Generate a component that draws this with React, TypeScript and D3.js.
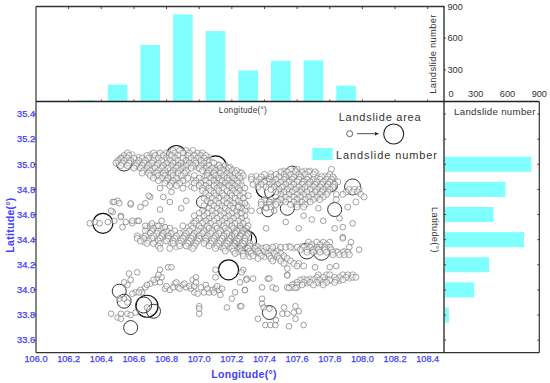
import React from "react";
import * as d3 from "d3";

// Histogram along longitude
const lonBins = [106.3, 106.5, 106.7, 106.9, 107.1, 107.3, 107.5, 107.7, 107.9];
const lonCounts = [12, 160, 535, 825, 667, 294, 385, 390, 150];
// Histogram along latitude
const latBins = [35.0, 34.8, 34.6, 34.4, 34.2, 34.0, 33.8];
const latCounts = [824, 580, 467, 755, 426, 284, 47];

const lonTicks = [106.0, 106.2, 106.4, 106.6, 106.8, 107.0, 107.2, 107.4, 107.6, 107.8, 108.0, 108.2, 108.4];
const latTicks = [35.4, 35.2, 35.0, 34.8, 34.6, 34.4, 34.2, 34.0, 33.8, 33.6];
const countTicks = [300, 600, 900];

// Small landslides, read row by row: [latitude, longitudes]
const rows: [number, number[]][] = [
  [35.11, [106.84, 106.88, 106.92, 106.96]],
  [35.09, [106.56, 106.72, 106.76, 106.8, 106.85, 106.9, 106.94, 106.99, 107.02]],
  [35.07, [106.54, 106.57, 106.68, 106.73, 106.78, 106.83, 106.87, 106.93, 106.97, 107.01, 107.04]],
  [35.05, [106.52, 106.56, 106.6, 106.65, 106.69, 106.75, 106.8, 106.85, 106.9, 106.95, 106.99, 107.03]],
  [35.03, [106.5, 106.54, 106.58, 106.63, 106.67, 106.72, 106.77, 106.82, 106.87, 106.92, 106.97, 107.01, 107.05]],
  [35.01, [106.49, 106.53, 106.57, 106.62, 106.66, 106.71, 106.75, 106.8, 106.84, 106.89, 106.94, 106.98, 107.03, 107.09]],
  [34.99, [106.52, 106.56, 106.61, 106.65, 106.69, 106.74, 106.78, 106.83, 106.87, 106.92, 106.96, 107.01, 107.06, 107.12, 107.16]],
  [34.97, [106.6, 106.64, 106.68, 106.73, 106.77, 106.81, 106.86, 106.9, 106.95, 107.0, 107.04, 107.08, 107.13, 107.18]],
  [34.95, [106.66, 106.7, 106.75, 106.79, 106.84, 106.88, 106.92, 107.02, 107.06, 107.1, 107.15, 107.2, 107.23]],
  [34.93, [106.65, 106.69, 106.74, 106.78, 106.83, 106.87, 106.91, 107.05, 107.09, 107.13, 107.17, 107.22, 107.26]],
  [34.91, [106.7, 106.75, 106.79, 106.84, 106.89, 106.97, 107.05, 107.1, 107.15, 107.19, 107.24, 107.27]],
  [34.89, [106.72, 106.77, 106.81, 106.86, 106.93, 107.0, 107.07, 107.12, 107.17, 107.21, 107.25]],
  [34.87, [106.75, 106.8, 106.84, 106.9, 106.98, 107.04, 107.09, 107.14, 107.18, 107.23]],
  [34.85, [106.79, 106.83, 106.88, 106.97, 107.01, 107.06, 107.11, 107.16, 107.2, 107.24]],
  [34.83, [106.82, 106.86, 107.0, 107.04, 107.09, 107.13, 107.18, 107.22, 107.26]],
  [34.81, [106.9, 106.97, 107.02, 107.06, 107.11, 107.15, 107.2, 107.24, 107.28]],
  [34.79, [107.02, 107.07, 107.12, 107.17, 107.21, 107.25]],
  [34.77, [107.04, 107.09, 107.14, 107.19, 107.23, 107.27]],
  [34.75, [107.06, 107.1, 107.15, 107.2, 107.25, 107.3]],
  [34.73, [107.03, 107.08, 107.12, 107.17, 107.22, 107.27]],
  [34.71, [107.05, 107.1, 107.15, 107.19, 107.24]],
  [34.69, [107.07, 107.12, 107.17, 107.21, 107.26]],
  [34.67, [107.03, 107.09, 107.14, 107.19, 107.24, 107.29]],
  [34.65, [107.06, 107.11, 107.16, 107.21, 107.26]],
  [34.63, [107.02, 107.08, 107.13, 107.18, 107.23, 107.28]],
  [34.61, [107.0, 107.05, 107.1, 107.15, 107.2, 107.25]],
  [34.59, [106.97, 107.03, 107.08, 107.13, 107.18, 107.23, 107.28]],
  [34.57, [107.0, 107.06, 107.11, 107.16, 107.21, 107.26]],
  [34.55, [106.98, 107.04, 107.09, 107.14, 107.19, 107.24, 107.29]],
  [34.53, [106.97, 107.02, 107.07, 107.12, 107.17, 107.22, 107.27]],
  [34.51, [106.7, 106.74, 106.9, 106.95, 107.0, 107.05, 107.1, 107.15, 107.2, 107.25, 107.3]],
  [34.49, [106.68, 106.72, 106.77, 106.82, 106.96, 107.01, 107.06, 107.11, 107.16, 107.21, 107.25, 107.29]],
  [34.47, [106.67, 106.71, 106.75, 106.8, 106.85, 106.94, 106.99, 107.03, 107.08, 107.13, 107.18, 107.23, 107.27]],
  [34.45, [106.7, 106.74, 106.78, 106.83, 106.88, 106.92, 106.97, 107.02, 107.07, 107.12, 107.17, 107.22, 107.26, 107.3]],
  [34.43, [106.62, 106.67, 106.72, 106.77, 106.81, 106.86, 106.91, 106.96, 107.0, 107.05, 107.1, 107.15, 107.2, 107.25, 107.29]],
  [34.41, [106.62, 106.66, 106.71, 106.76, 106.81, 106.85, 106.9, 106.95, 107.0, 107.04, 107.09, 107.14, 107.19, 107.24, 107.28]],
  [34.39, [106.64, 106.69, 106.75, 106.8, 106.84, 106.89, 106.94, 106.99, 107.04, 107.08, 107.13, 107.18, 107.23, 107.28]],
  [34.37, [106.68, 106.72, 106.76, 106.84, 106.88, 106.93, 106.98, 107.03, 107.07, 107.12, 107.17, 107.22, 107.27, 107.31]],
  [34.35, [106.75, 106.88, 106.92, 106.97, 107.06, 107.11, 107.16, 107.21, 107.26, 107.31, 107.35]],
  [34.33, [106.76, 106.82, 106.96, 107.1, 107.15, 107.2, 107.25, 107.3, 107.34, 107.39, 107.43]],
  [34.31, [107.16, 107.21, 107.26, 107.31, 107.36, 107.4, 107.44, 107.48]],
  [34.29, [107.22, 107.27, 107.32, 107.37, 107.42, 107.46, 107.5]],
  [34.27, [107.27, 107.33, 107.38, 107.43, 107.48, 107.52]],
  [34.25, [107.36, 107.44, 107.49, 107.54]],
  [34.23, [107.45, 107.5, 107.56]],
  [34.21, [107.52, 107.58, 107.61]],
  [34.19, [107.6, 107.64]],
  [34.38, [107.67, 107.72, 107.76, 107.8]],
  [34.36, [107.69, 107.74, 107.78]],
  [34.34, [107.41, 107.45, 107.5, 107.53, 107.56, 107.6, 107.64, 107.68, 107.72, 107.77, 107.8]],
  [34.32, [107.62, 107.66, 107.7, 107.73, 107.77, 107.81]],
  [34.3, [107.66, 107.7, 107.74, 107.78, 107.82, 107.85, 107.88, 107.91]],
  [34.28, [107.82, 107.86, 107.89, 107.92]],
  [34.12, [107.73, 107.78, 107.8, 107.88, 107.91, 107.94]],
  [34.1, [107.72, 107.76, 107.83, 107.86, 107.9, 107.94, 107.96]],
  [34.08, [107.62, 107.66, 107.7, 107.74, 107.8, 107.84, 107.88]],
  [34.06, [107.6, 107.64, 107.68, 107.72, 107.76, 107.78, 107.83]],
  [34.04, [107.57, 107.6, 107.63, 107.7, 107.76]],
  [34.02, [107.54, 107.57, 107.6]],
  [34.96, [107.56, 107.6, 107.81]],
  [34.94, [107.5, 107.54, 107.59, 107.63, 107.67, 107.71]],
  [34.92, [107.4, 107.47, 107.52, 107.56, 107.61, 107.65, 107.7, 107.8]],
  [34.9, [107.32, 107.38, 107.44, 107.49, 107.53, 107.58, 107.62, 107.67, 107.75, 107.79, 107.82]],
  [34.88, [107.32, 107.37, 107.43, 107.47, 107.52, 107.57, 107.61, 107.66, 107.7, 107.74, 107.78, 107.81]],
  [34.86, [107.35, 107.4, 107.45, 107.5, 107.55, 107.6, 107.64, 107.68, 107.72, 107.76, 107.8, 107.85]],
  [34.84, [107.33, 107.38, 107.43, 107.48, 107.53, 107.58, 107.63, 107.67, 107.71, 107.75, 107.79, 107.83]],
  [34.82, [107.36, 107.41, 107.46, 107.51, 107.56, 107.61, 107.65, 107.7, 107.74, 107.78, 107.82]],
  [34.8, [107.44, 107.49, 107.54, 107.59, 107.63, 107.68, 107.72, 107.76, 107.8, 107.92, 107.95, 107.98]],
  [34.78, [107.47, 107.52, 107.57, 107.62, 107.66, 107.71, 107.75, 107.79, 107.9, 107.94, 107.97]],
  [34.76, [107.5, 107.55, 107.6, 107.64, 107.69, 107.74, 107.78, 107.84, 107.88, 107.99]],
  [34.74, [107.53, 107.58, 107.62, 107.67, 107.72, 107.76, 108.01]],
  [34.72, [107.4, 107.44, 107.5, 107.55, 107.6, 107.65, 107.7, 107.74, 107.84]],
  [34.7, [107.38, 107.43, 107.48, 107.53, 107.58, 107.63, 107.68, 107.96]],
  [34.68, [107.38, 107.43, 107.47, 107.56, 107.6, 107.65]],
  [34.66, [107.41, 107.44, 107.6, 107.64, 107.91]],
];

// Slightly smaller landslides between the rows above
const extraRows: [number, number[]][] = [
  [35.08, [106.59, 106.7, 106.75, 106.82, 106.88, 106.97, 107.0]],
  [35.06, [106.55, 106.63, 106.72, 106.77, 106.83, 106.92, 107.0, 107.06]],
  [35.04, [106.53, 106.61, 106.69, 106.74, 106.79, 106.86, 106.94, 107.03]],
  [35.02, [106.51, 106.6, 106.64, 106.7, 106.78, 106.85, 106.91, 106.96, 107.02, 107.08]],
  [35.0, [106.55, 106.63, 106.68, 106.73, 106.81, 106.88, 106.93, 106.99, 107.05, 107.12]],
  [34.98, [106.62, 106.67, 106.72, 106.8, 106.85, 106.91, 106.97, 107.03, 107.1, 107.15, 107.19]],
  [34.96, [106.68, 106.76, 106.82, 106.89, 107.0, 107.07, 107.11, 107.17, 107.21]],
  [34.94, [106.72, 106.8, 106.85, 106.93, 107.04, 107.12, 107.19, 107.25]],
  [34.92, [106.77, 106.82, 106.87, 107.06, 107.11, 107.16, 107.21]],
  [34.9, [106.74, 106.83, 106.91, 107.03, 107.08, 107.14, 107.2, 107.26]],
  [34.88, [106.79, 106.88, 106.96, 107.02, 107.1, 107.16, 107.22]],
  [34.86, [106.82, 106.86, 106.99, 107.07, 107.13, 107.19, 107.26]],
  [34.84, [106.85, 106.93, 107.03, 107.1, 107.15, 107.21]],
  [34.82, [106.95, 107.06, 107.12, 107.18, 107.23]],
  [34.74, [107.05, 107.13, 107.19, 107.24, 107.28]],
  [34.7, [107.08, 107.14, 107.2, 107.25]],
  [34.66, [107.05, 107.13, 107.18, 107.23, 107.28]],
  [34.62, [107.03, 107.11, 107.17, 107.22, 107.27]],
  [34.58, [107.02, 107.07, 107.15, 107.2, 107.26]],
  [34.54, [106.96, 107.05, 107.13, 107.18, 107.25]],
  [34.5, [106.7, 106.79, 106.93, 107.03, 107.08, 107.14, 107.2, 107.27]],
  [34.46, [106.69, 106.76, 106.81, 106.9, 106.98, 107.05, 107.1, 107.16, 107.21, 107.28]],
  [34.42, [106.65, 106.69, 106.79, 106.83, 106.93, 106.98, 107.03, 107.11, 107.17, 107.22, 107.27]],
  [34.38, [106.66, 106.73, 106.82, 106.9, 106.96, 107.05, 107.1, 107.16, 107.21, 107.26, 107.3]],
  [34.34, [106.86, 106.94, 107.13, 107.18, 107.24, 107.29, 107.33, 107.37]],
  [34.3, [107.24, 107.3, 107.35, 107.41, 107.47]],
  [34.26, [107.31, 107.4, 107.46, 107.52]],
  [34.95, [107.52, 107.57, 107.65, 107.68]],
  [34.93, [107.44, 107.5, 107.58, 107.63, 107.72]],
  [34.91, [107.35, 107.46, 107.55, 107.6, 107.68, 107.77]],
  [34.89, [107.41, 107.5, 107.55, 107.64, 107.72, 107.83]],
  [34.87, [107.38, 107.48, 107.54, 107.63, 107.7, 107.77]],
  [34.85, [107.36, 107.46, 107.52, 107.57, 107.66, 107.73, 107.82]],
  [34.83, [107.4, 107.45, 107.55, 107.6, 107.69, 107.77, 107.81]],
  [34.81, [107.47, 107.53, 107.58, 107.64, 107.73, 107.79]],
  [34.79, [107.5, 107.55, 107.61, 107.69, 107.77]],
  [34.77, [107.53, 107.63, 107.67, 107.73]],
  [34.75, [107.57, 107.65, 107.7, 107.75]],
  [34.73, [107.51, 107.6, 107.68, 107.72]],
  [34.71, [107.46, 107.52, 107.62, 107.67]],
  [34.69, [107.41, 107.5, 107.61]],
  [34.35, [107.47, 107.55, 107.63, 107.7, 107.75]],
  [34.33, [107.5, 107.58, 107.67, 107.74, 107.79]],
  [34.31, [107.68, 107.72, 107.76, 107.84, 107.89]],
  [34.09, [107.64, 107.68, 107.72, 107.78, 107.85, 107.92]],
  [34.07, [107.62, 107.66, 107.74, 107.81, 107.86]],
  [34.05, [107.58, 107.66, 107.73]],
];

// Scattered small landslides: [longitude, latitude]
const scattered: [number, number][] = [
  [106.33, 34.53], [106.36, 34.54], [106.39, 34.53], [106.44, 34.54], [106.47, 34.62], [106.48, 34.55],
  [106.52, 34.59], [106.53, 34.5], [106.55, 34.54], [106.59, 34.53], [106.62, 34.55], [106.47, 34.7],
  [106.5, 34.71], [106.58, 34.68], [106.64, 34.66], [106.67, 34.69], [106.76, 34.64], [106.82, 34.7],
  [106.7, 34.74], [106.48, 34.7], [106.51, 34.69], [106.58, 34.69], [106.69, 34.75], [106.76, 34.81],
  [106.78, 34.74], [106.83, 34.78], [106.92, 34.71], [106.89, 34.65], [106.46, 34.63], [106.52, 34.58],
  [106.59, 34.55], [106.63, 34.55], [106.67, 34.51], [106.71, 34.53], [106.77, 34.55], [106.75, 34.51],
  [106.79, 34.5], [107.24, 34.66], [107.28, 34.69], [107.32, 34.63], [107.26, 34.61], [107.37, 34.63],
  [107.41, 34.65], [107.46, 34.63], [107.69, 34.56], [107.53, 34.54], [107.61, 34.49], [107.41, 34.49],
  [107.76, 34.55], [107.94, 34.53], [107.83, 34.49], [107.88, 34.5], [107.88, 34.42], [107.64, 34.59],
  [107.73, 34.65], [107.86, 34.57], [107.88, 34.41], [107.93, 34.38], [107.98, 34.32], [107.92, 34.34],
  [107.71, 34.18], [107.8, 34.18], [107.84, 34.19], [107.54, 34.17], [107.42, 34.09], [107.54, 34.12],
  [106.74, 34.09], [106.77, 34.1], [106.73, 34.06], [106.7, 34.05], [106.67, 34.02], [106.64, 34.0],
  [106.61, 33.98], [106.59, 33.97], [106.56, 34.04], [106.54, 34.06], [106.58, 34.08], [106.62, 34.14],
  [106.57, 34.13], [106.76, 34.16], [106.81, 34.18], [106.83, 34.18], [106.79, 34.01], [106.82, 34.0],
  [106.85, 34.05], [106.87, 34.02], [106.9, 34.04], [106.92, 34.02], [106.96, 34.08], [106.98, 34.1],
  [106.97, 33.98], [106.99, 33.97], [106.95, 34.01], [107.01, 34.02], [107.04, 34.04], [107.03, 33.98],
  [107.06, 33.98], [107.08, 34.0], [107.1, 34.01], [107.12, 34.0], [107.14, 34.01], [107.13, 33.96],
  [107.2, 33.93], [107.22, 33.98], [107.17, 33.86], [107.25, 33.87], [107.1, 34.1], [107.1, 34.16],
  [107.27, 34.16], [107.25, 34.06], [107.29, 34.09], [107.28, 34.0], [106.76, 34.06], [106.65, 33.98],
  [106.86, 34.06], [106.88, 34.01], [106.46, 33.81], [106.5, 33.78], [106.52, 33.81], [106.52, 33.77],
  [106.56, 33.81], [106.58, 33.8], [106.61, 33.82], [106.54, 33.93], [106.51, 33.93], [106.56, 33.9],
  [106.68, 33.86], [107.0, 33.87], [107.0, 33.85], [107.0, 33.81], [107.43, 34.09], [107.385, 34.02],
  [107.45, 34.02], [107.47, 34.01], [107.28, 33.997], [107.33, 34.09], [107.29, 34.08], [107.26, 34.14],
  [107.54, 34.115], [107.55, 34.015], [107.59, 34.015], [107.385, 33.93], [107.385, 33.89], [107.395, 33.86],
  [107.36, 33.77], [107.43, 33.85], [107.52, 33.86], [107.51, 33.81], [107.54, 33.81], [107.59, 33.87],
  [107.61, 33.83], [107.58, 33.82], [107.59, 33.77], [107.405, 33.72], [107.436, 33.72], [107.467, 33.72],
  [107.47, 33.76], [107.55, 33.71], [107.64, 33.72], [107.258, 33.87],
  [106.72, 34.08], [106.75, 34.12], [106.68, 34.04], [106.63, 33.98], [106.8, 34.03], [106.84, 34.02],
  [106.91, 34.05], [106.94, 34.03], [107.05, 34.01], [107.09, 33.98], [107.11, 34.03], [106.97, 34.03],
  [106.98, 34.06],
];

// Large landslides: [longitude, latitude, relative area]
const large: [number, number, number][] = [
  [106.41, 34.53, 100], [107.18, 34.16, 100], [106.68, 33.87, 121], [106.72, 33.83, 49], [106.58, 33.7, 49],
  [106.51, 33.99, 49], [106.54, 33.91, 49], [106.66, 33.88, 64], [107.29, 34.39, 100], [107.26, 34.42, 100],
  [107.94, 34.82, 64], [107.83, 34.64, 49], [107.41, 34.81, 100], [107.45, 34.78, 64], [107.42, 34.63, 36],
  [107.54, 34.65, 49], [107.57, 34.93, 49], [107.81, 34.83, 36], [106.54, 35.01, 64], [106.86, 35.07, 100],
  [107.1, 34.98, 121], [107.15, 34.91, 81], [107.02, 34.7, 36], [107.75, 34.3, 64], [107.66, 34.31, 64],
  [107.43, 33.82, 49],
];

const W = 550;
const H = 383;
const plot = { left: 36, right: 444, top: 101.5, bottom: 352.7 };
const topPanelTop = 6.5;
const sidePanelRight = 539.3;

const x = d3.scaleLinear().domain([106, 108.5]).range([plot.left, plot.right]);
const y = d3.scaleLinear().domain([33.5, 35.5]).range([plot.bottom, plot.top]);
const countY = d3.scaleLinear().domain([0, 900]).range([plot.top, topPanelTop]);
const countX = d3.scaleLinear().domain([0, 900]).range([plot.right, sidePanelRight]);
const radius = d3.scaleSqrt().domain([0, 121]).range([0, 11]);

const flatten = (rs: [number, number[]][]) =>
  rs.flatMap(([lat, lons]) => lons.map((lon) => [lon, lat] as [number, number]));
const smallPoints = flatten(rows);
const extraPoints = flatten(extraRows);
const BLUE = "#4040ff";
const DARK = "#333";
const CYAN = "#80ffff";
const FONT = "'Liberation Sans', Arial, sans-serif";

export default function App() {
  const barW = x(106.12) - x(106);
  const barH = y(33.5) - y(33.62);
  return (
    <svg width={W} height={H} style={{ position: "absolute", left: 0, top: 0, background: "#fff" }} fontFamily={FONT}>
      {lonBins.map((b, i) => (
        <rect key={b} x={x(b) - barW / 2} width={barW} y={countY(lonCounts[i])} height={plot.top - countY(lonCounts[i])} fill={CYAN} />
      ))}
      {latBins.map((b, i) => (
        <rect key={b} x={plot.right + 0.8} width={countX(latCounts[i]) - plot.right - 0.8} y={y(b) - barH / 2} height={barH} fill={CYAN} />
      ))}

      {large.map(([lon, lat, a], i) => (
        <circle key={"l" + i} cx={x(lon)} cy={y(lat)} r={radius(a)} fill="none" stroke={a >= 81 ? "#111" : "#333"} strokeWidth={a >= 81 ? 1.2 : 1} />
      ))}
      {extraPoints.map(([lon, lat], i) => (
        <circle key={"e" + i} cx={x(lon)} cy={y(lat)} r={radius(6.5)} fill="#fff" fillOpacity={0.5} stroke="#8a8a8a" strokeWidth={0.6} />
      ))}
      {smallPoints.map(([lon, lat], i) => (
        <circle key={"s" + i} cx={x(lon)} cy={y(lat)} r={radius(9)} fill="#fff" fillOpacity={0.5} stroke="#777" strokeWidth={0.65} />
      ))}
      {scattered.map(([lon, lat], i) => (
        <circle key={"c" + i} cx={x(lon)} cy={y(lat)} r={radius(8)} fill="#fff" fillOpacity={0.5} stroke="#777" strokeWidth={0.7} />
      ))}

      {/* frames */}
      <g stroke={DARK} strokeWidth={1} fill="none">
        <line x1={plot.left} x2={plot.left} y1={topPanelTop} y2={plot.bottom} strokeWidth={1.2} />
        <line x1={plot.left} x2={plot.right + 0.5} y1={topPanelTop} y2={topPanelTop} strokeWidth={1.3} />
        <line x1={plot.left} x2={sidePanelRight} y1={plot.top} y2={plot.top} strokeWidth={1.3} stroke="#222" />
        <line x1={plot.left} x2={sidePanelRight} y1={plot.bottom} y2={plot.bottom} strokeWidth={1.2} />
        <line x1={plot.right} x2={plot.right} y1={topPanelTop} y2={plot.bottom} strokeWidth={1.3} stroke="#222" />
        <line x1={sidePanelRight} x2={sidePanelRight} y1={plot.top} y2={plot.bottom} strokeWidth={1.2} />
      </g>

      {/* ticks */}
      <g stroke={DARK} strokeWidth={0.9}>
        {lonTicks.slice(1).map((t) => (
          <g key={t}>
            <line x1={x(t)} x2={x(t)} y1={topPanelTop} y2={topPanelTop + 2.5} />
            <line x1={x(t)} x2={x(t)} y1={plot.top} y2={plot.top - 2} />
          </g>
        ))}
        {latTicks.map((t) => (
          <g key={t}>
            <line x1={plot.left} x2={plot.left - 2} y1={y(t)} y2={y(t)} />
            <line x1={plot.right} x2={plot.right + 2} y1={y(t)} y2={y(t)} />
            <line x1={sidePanelRight} x2={sidePanelRight - 2} y1={y(t)} y2={y(t)} />
          </g>
        ))}
        {countTicks.slice(0, 2).map((t) => (
          <line key={t} x1={plot.right} x2={plot.right + 2} y1={countY(t)} y2={countY(t)} />
        ))}
      </g>

      {/* blue axis labels */}
      <g fill={BLUE} stroke={BLUE} strokeWidth={0.25} fontSize={9.2}>
        {lonTicks.map((t) => (
          <text key={t} x={x(t)} y={362} textAnchor="middle">{t.toFixed(1)}</text>
        ))}
        {latTicks.map((t) => (
          <text key={t} x={35} y={y(t) + 3.3} textAnchor="end">{t.toFixed(1)}</text>
        ))}
      </g>
      <text x={244} y={377.5} textAnchor="middle" fill={BLUE} fontSize={10.5} fontWeight={700} letterSpacing={0.3}>Longitude(°)</text>
      <text transform="translate(14,225) rotate(-90)" textAnchor="middle" fill={BLUE} fontSize={10.5} fontWeight={700} letterSpacing={0.3}>Latitude(°)</text>

      {/* dark axis labels */}
      <g fill={DARK} fontSize={9.2}>
        {countTicks.map((t) => (
          <text key={t} x={447.5} y={countY(t) + 3.2}>{t}</text>
        ))}
        {[0, ...countTicks].map((t) => (
          <text key={t} x={t === 0 ? countX(t) + 7 : countX(t)} y={96.5} textAnchor="middle">{t}</text>
        ))}
      </g>
      <text x={243} y={113} textAnchor="middle" fill={DARK} fontSize={8.2} letterSpacing={0.3}>Longitude(°)</text>
      <text x={454} y={115} fill={DARK} fontSize={9.7} letterSpacing={0.3}>Landslide number</text>
      <text transform="translate(436,54) rotate(-90)" textAnchor="middle" fill={DARK} fontSize={9.4} letterSpacing={0.3}>Landslide number</text>
      <text transform="translate(432,230) rotate(90)" textAnchor="middle" fill={DARK} fontSize={9.2} letterSpacing={0.3}>Latitude(°)</text>

      {/* legend */}
      <text x={380} y={120.5} textAnchor="middle" fill={DARK} fontSize={11} letterSpacing={0.75}>Landslide area</text>
      <circle cx={349.7} cy={133.7} r={3} fill="none" stroke="#555" strokeWidth={0.9} />
      <line x1={357} x2={376} y1={133.7} y2={133.7} stroke="#222" strokeWidth={0.8} />
      <path d="M375,132 L379,133.7 L375,135.4 Z" fill="#222" />
      <circle cx={393.7} cy={134} r={10} fill="none" stroke="#222" strokeWidth={1.1} />
      <rect x={312.3} y={148} width={20.4} height={12} fill={CYAN} />
      <text x={336} y={158.5} fill={DARK} fontSize={11} letterSpacing={0.9}>Landslide number</text>
    </svg>
  );
}
